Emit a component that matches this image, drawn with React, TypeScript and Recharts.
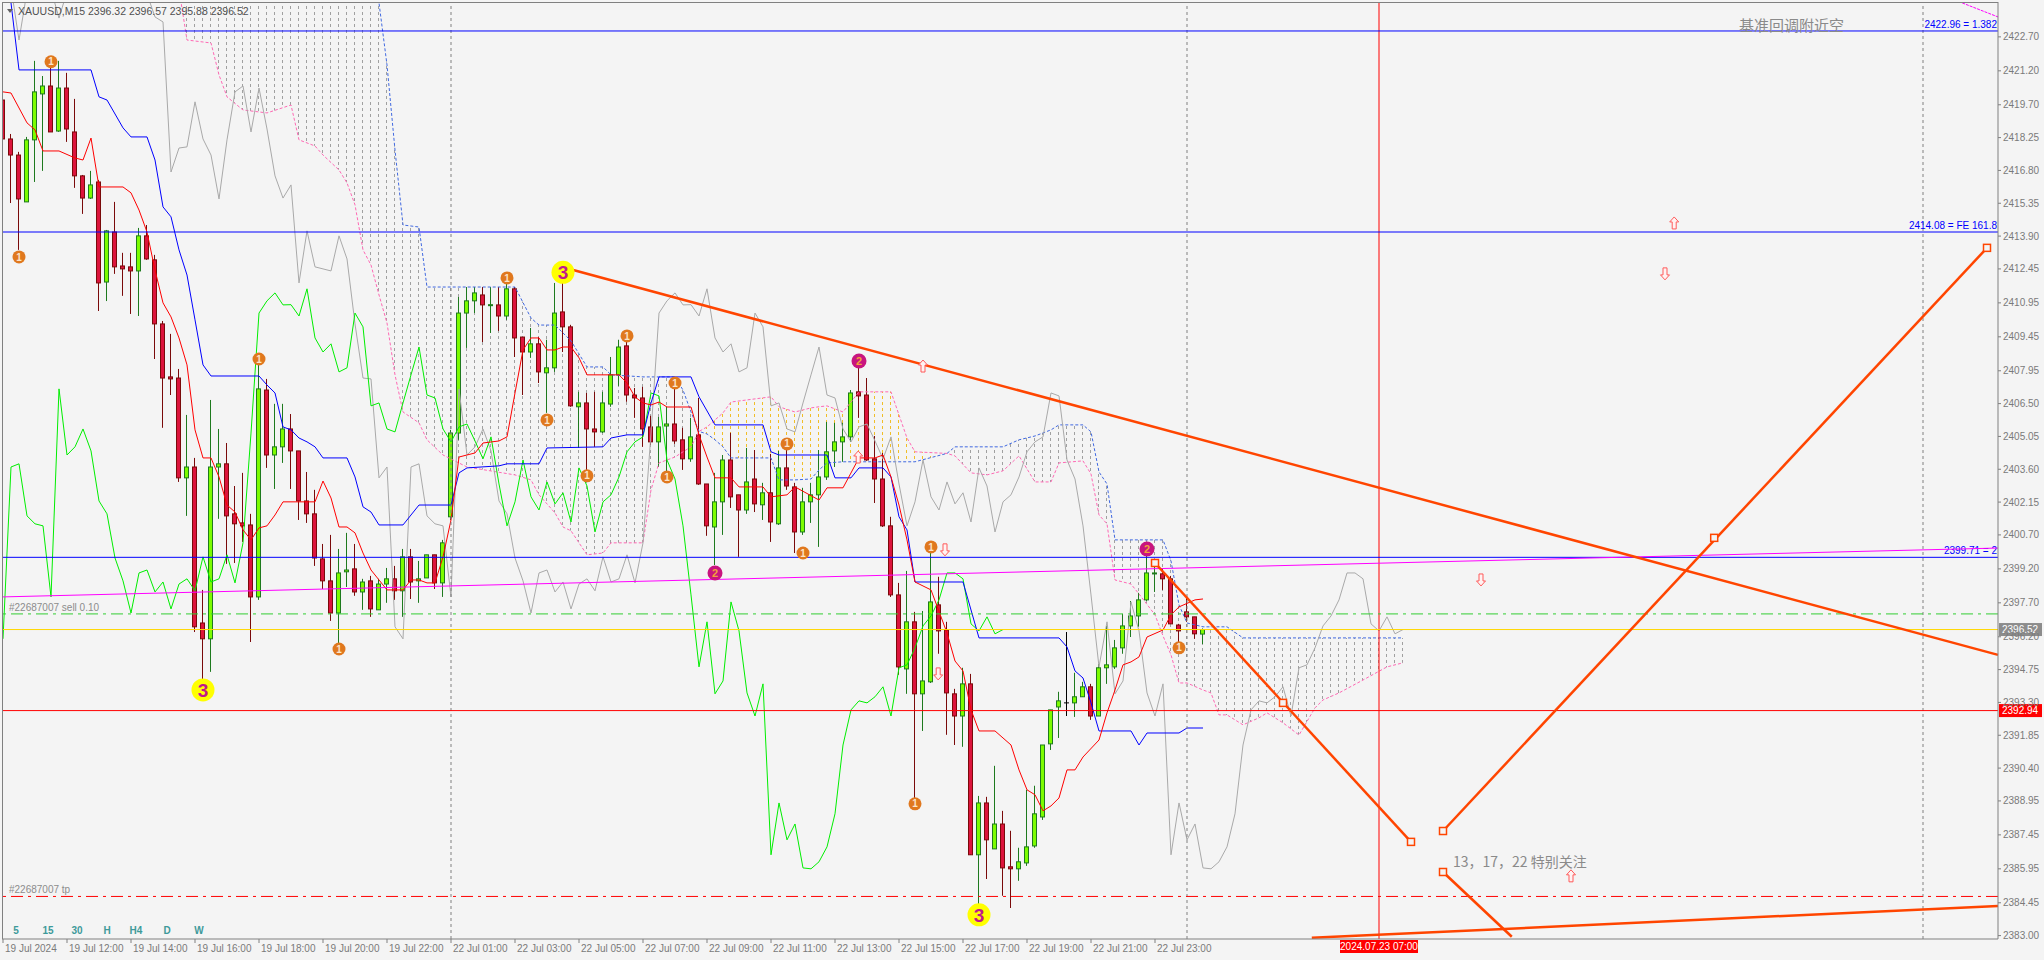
import React from "react";
import {
  Area,
  Bar,
  ComposedChart,
  Line,
  ReferenceDot,
  ReferenceLine,
  XAxis,
  YAxis,
} from "recharts";

const FONT = "'Liberation Sans', Arial, sans-serif";
const CJK = "'Noto Sans CJK SC', sans-serif";
const BG = "#F4F4F4";
const AXIS = "#7A7A7A";
const TREND = "#FF4500";

// XAUUSD M15 bars, index 0 = 19 Jul 10:00
const opens = [
  2419.91, 2418.19, 2417.48, 2415.41, 2418.15, 2420.18, 2420.53, 2418.54, 2420.44, 2418.5,
  2416.56, 2415.58, 2416.29, 2411.87, 2414.08, 2412.58, 2412.54, 2412.36, 2413.91, 2412.85,
  2410.02, 2407.68, 2407.63, 2403.22, 2403.7, 2396.81, 2396.11, 2403.7, 2403.84, 2401.63,
  2401.23, 2401.14, 2397.96, 2407.1, 2404.23, 2404.59, 2405.38, 2404.41, 2402.2, 2401.63,
  2399.64, 2398.67, 2397.25, 2399.07, 2399.2, 2398.18, 2398.67, 2397.39, 2398.53, 2398.76,
  2398.23, 2399.73, 2398.67, 2398.8, 2399.82, 2398.58, 2401.5, 2405.2, 2410.5, 2411.04,
  2411.3, 2410.86, 2410.86, 2410.37, 2411.57, 2409.44, 2408.78, 2409.14, 2407.86, 2408.08,
  2410.55, 2409.89, 2406.36, 2406.53, 2405.38, 2405.25, 2406.48, 2407.77, 2409.05, 2406.88,
  2406.75, 2405.47, 2404.81, 2405.51, 2405.6, 2404.9, 2404.06, 2405.12, 2402.95, 2401.05,
  2402.16, 2404.01, 2402.47, 2401.8, 2403.17, 2402.03, 2402.56, 2401.19, 2403.66, 2402.82,
  2400.83, 2402.16, 2402.47, 2403.26, 2404.41, 2404.81, 2405.03, 2407.02, 2406.88, 2404.06,
  2403.17, 2401.1, 2398.05, 2394.78, 2396.86, 2393.68, 2394.21, 2397.61, 2396.5, 2393.68,
  2392.7, 2394.12, 2386.57, 2388.86, 2386.83, 2387.93, 2386.04, 2385.95, 2386.21, 2386.96,
  2388.24, 2391.47, 2393.1, 2393.28, 2393.28, 2393.55, 2393.99, 2392.7, 2394.83, 2394.87,
  2395.71, 2396.68, 2397.12, 2397.83, 2398.98, 2398.98, 2398.76, 2396.72, 2397.3, 2397.08,
  2396.32,
];
const highs = [
  2422.17, 2418.41, 2417.62, 2418.28, 2421.64, 2420.97, 2421.55, 2421.64, 2421.11, 2419.96,
  2416.6, 2416.78, 2416.38, 2414.17, 2415.41, 2413.16, 2413.16, 2414.26, 2414.39, 2413.07,
  2410.15, 2409.58, 2408.03, 2406.0, 2404.1, 2398.27, 2406.66, 2405.38, 2404.76, 2402.86,
  2403.44, 2401.63, 2408.56, 2407.59, 2406.49, 2406.49, 2406.04, 2404.41, 2403.48, 2402.69,
  2400.3, 2400.7, 2400.08, 2400.79, 2400.3, 2398.76, 2398.89, 2398.76, 2399.24, 2399.33,
  2400.08, 2400.08, 2399.55, 2399.82, 2399.82, 2400.48, 2405.34, 2411.21, 2411.65, 2411.65,
  2411.65, 2411.65, 2411.65, 2411.92, 2411.65, 2409.44, 2409.84, 2409.44, 2409.32, 2411.83,
  2412.32, 2409.98, 2407.02, 2406.97, 2407.02, 2407.02, 2408.56, 2409.32, 2409.44, 2407.19,
  2407.24, 2405.96, 2405.91, 2406.36, 2407.41, 2405.43, 2405.87, 2406.75, 2402.95, 2403.44,
  2404.23, 2405.21, 2402.47, 2404.54, 2404.45, 2403.0, 2404.28, 2404.41, 2404.76, 2403.0,
  2402.78, 2403.0, 2404.45, 2405.69, 2405.65, 2405.65, 2407.1, 2408.34, 2407.63, 2405.07,
  2404.32, 2401.5, 2398.58, 2399.11, 2397.3, 2397.34, 2399.95, 2398.85, 2396.86, 2393.9,
  2394.83, 2394.56, 2389.17, 2389.13, 2390.5, 2388.51, 2387.63, 2386.88, 2389.44, 2389.62,
  2391.42, 2392.97, 2393.77, 2396.41, 2394.61, 2394.21, 2394.12, 2395.0, 2396.68, 2396.06,
  2397.21, 2397.78, 2398.14, 2400.08, 2399.42, 2399.2, 2398.89, 2396.77, 2397.96, 2397.08,
  2396.57,
];
const lows = [
  2417.84, 2415.36, 2413.29, 2415.41, 2416.29, 2416.78, 2418.5, 2418.5, 2418.06, 2416.03,
  2414.88, 2415.54, 2410.59, 2411.03, 2412.23, 2411.26, 2410.46, 2410.37, 2412.85, 2408.47,
  2405.43, 2406.88, 2403.04, 2401.54, 2396.41, 2394.29, 2394.65, 2401.41, 2399.42, 2399.46,
  2400.39, 2395.97, 2397.83, 2403.66, 2402.73, 2403.88, 2402.73, 2401.36, 2401.23, 2399.33,
  2398.31, 2396.9, 2395.84, 2398.4, 2398.01, 2397.39, 2397.08, 2397.39, 2397.7, 2397.83,
  2397.08, 2397.87, 2397.7, 2398.8, 2398.31, 2397.96, 2401.36, 2404.9, 2408.96, 2410.5,
  2409.22, 2409.62, 2409.71, 2410.2, 2408.56, 2406.88, 2408.52, 2407.41, 2406.09, 2407.9,
  2408.78, 2406.36, 2404.54, 2403.57, 2404.59, 2405.2, 2406.36, 2407.28, 2406.58, 2405.87,
  2404.59, 2404.67, 2403.7, 2403.44, 2404.72, 2403.57, 2403.93, 2402.91, 2400.66, 2399.37,
  2400.7, 2401.89, 2399.73, 2401.63, 2401.71, 2401.36, 2400.39, 2401.14, 2402.69, 2399.9,
  2400.7, 2401.23, 2400.17, 2403.13, 2403.7, 2403.93, 2404.81, 2405.87, 2403.97, 2402.11,
  2401.05, 2397.96, 2394.52, 2393.68, 2389.0, 2392.04, 2394.16, 2395.45, 2391.87, 2391.42,
  2391.34, 2386.57, 2384.05, 2385.5, 2386.83, 2384.76, 2384.22, 2385.42, 2386.08, 2386.88,
  2388.11, 2391.2, 2391.73, 2392.7, 2392.66, 2393.55, 2392.53, 2392.7, 2394.12, 2394.78,
  2395.45, 2396.19, 2396.64, 2397.78, 2398.18, 2398.27, 2396.77, 2395.71, 2396.86, 2396.11,
  2395.88,
];
const closes = [
  2418.19, 2417.48, 2415.54, 2418.15, 2420.27, 2420.53, 2418.5, 2420.44, 2418.63, 2416.56,
  2415.58, 2416.16, 2411.83, 2414.13, 2412.54, 2412.45, 2412.36, 2413.91, 2412.89, 2410.02,
  2407.63, 2407.59, 2403.22, 2403.7, 2396.64, 2396.11, 2403.7, 2403.84, 2401.54, 2401.19,
  2401.1, 2397.96, 2407.15, 2404.23, 2404.59, 2405.38, 2404.41, 2402.2, 2401.63, 2399.68,
  2398.67, 2397.25, 2399.02, 2399.15, 2398.18, 2398.62, 2397.43, 2398.53, 2398.76, 2398.23,
  2399.73, 2398.62, 2398.76, 2399.82, 2398.58, 2400.35, 2405.2, 2410.5, 2411.04, 2411.39,
  2410.86, 2410.87, 2410.37, 2411.57, 2409.4, 2408.78, 2409.14, 2407.9, 2408.08, 2410.5,
  2409.89, 2406.4, 2406.53, 2405.38, 2405.25, 2406.53, 2407.77, 2409.0, 2406.88, 2406.75,
  2405.38, 2404.81, 2405.47, 2405.6, 2404.85, 2404.06, 2405.03, 2402.95, 2401.1, 2402.16,
  2404.01, 2402.38, 2401.8, 2403.04, 2402.07, 2402.56, 2401.27, 2403.66, 2402.86, 2400.83,
  2402.16, 2402.47, 2403.26, 2404.37, 2404.81, 2405.03, 2406.97, 2406.84, 2404.01, 2403.17,
  2401.1, 2398.05, 2394.87, 2396.86, 2393.68, 2394.25, 2397.74, 2396.46, 2393.72, 2392.7,
  2394.12, 2386.57, 2388.86, 2387.23, 2387.93, 2385.99, 2385.95, 2386.26, 2386.92, 2388.38,
  2391.42, 2392.97, 2393.37, 2393.28, 2393.55, 2393.99, 2392.7, 2394.83, 2394.96, 2395.71,
  2396.68, 2397.12, 2397.83, 2399.02, 2399.02, 2398.76, 2396.77, 2396.46, 2397.08, 2396.33,
  2396.52,
];
// closes of the bars before the window (only seen through the forward-shifted grey line)
const priorCloses = [
  2425.3, 2424.9, 2422.56, 2424.7, 2425.1, 2425.4, 2424.8, 2423.53, 2424.7, 2425.0,
  2425.4, 2425.6, 2425.5, 2425.2, 2425.6, 2425.9, 2425.4, 2425.0, 2424.6, 2423.58,
  2423.36, 2416.73, 2417.79, 2417.84, 2419.83,
];

const timeTicks = [0, 8, 16, 24, 32, 40, 48, 56, 64, 72, 80, 88, 96, 104, 112, 120, 128, 136, 144];
const timeLabels = [
  "19 Jul 2024", "19 Jul 12:00", "19 Jul 14:00", "19 Jul 16:00", "19 Jul 18:00",
  "19 Jul 20:00", "19 Jul 22:00", "22 Jul 01:00", "22 Jul 03:00", "22 Jul 05:00",
  "22 Jul 07:00", "22 Jul 09:00", "22 Jul 11:00", "22 Jul 13:00", "22 Jul 15:00",
  "22 Jul 17:00", "22 Jul 19:00", "22 Jul 21:00", "22 Jul 23:00",
];
const priceTicks = [
  2422.7, 2421.2, 2419.7, 2418.25, 2416.8, 2415.35, 2413.9, 2412.45, 2410.95, 2409.45,
  2407.95, 2406.5, 2405.05, 2403.6, 2402.15, 2400.7, 2399.2, 2397.7, 2396.2, 2394.75,
  2393.3, 2391.85, 2390.4, 2388.95, 2387.45, 2385.95, 2384.45, 2383.0,
];

// ichimoku lines, [bar, price] at the corners of each line
const tenkan: [number, number][] = [
  [0, 2420.27], [1, 2420.22], [3, 2418.9], [4, 2418.59], [5, 2417.66], [7, 2417.66], [9, 2417.35],
  [10, 2417.26], [11, 2418.23], [12, 2416.07], [15, 2416.07], [16, 2415.81], [17, 2415.05],
  [18, 2414.08], [19, 2412.4], [20, 2410.95], [21, 2410.33], [22, 2409.4], [23, 2408.21],
  [24, 2405.34], [25, 2404.1], [26, 2404.1], [27, 2403.26], [28, 2402.02], [29, 2401.71],
  [30, 2400.92], [31, 2400.48], [32, 2401.01], [33, 2401.1], [34, 2401.58], [35, 2402.16],
  [39, 2402.16], [40, 2403.08], [41, 2402.33], [42, 2401.05], [43, 2401.05], [44, 2400.79],
  [45, 2399.9], [46, 2399.15], [47, 2398.71], [48, 2398.27], [50, 2398.27], [51, 2398.71],
  [52, 2398.71], [53, 2398.58], [54, 2398.58], [55, 2399.73], [56, 2401.36], [57, 2404.14],
  [59, 2404.32], [60, 2404.76], [62, 2404.85], [63, 2405.03], [64, 2406.97], [65, 2408.87],
  [66, 2409.4], [67, 2409.4], [68, 2408.87], [69, 2408.87], [70, 2409.0], [71, 2409.0],
  [72, 2408.52], [73, 2407.77], [77, 2407.77], [78, 2407.41], [79, 2406.79], [80, 2406.53],
  [81, 2406.44], [82, 2406.57], [83, 2406.35], [86, 2406.35], [87, 2405.12], [88, 2404.14],
  [89, 2403.22], [91, 2403.22], [92, 2402.82], [95, 2402.82], [96, 2402.38], [98, 2402.47],
  [99, 2402.82], [102, 2402.24], [103, 2402.78], [105, 2402.78], [107, 2404.1], [109, 2404.1],
  [110, 2404.23], [111, 2403.26], [112, 2402.02], [113, 2400.48], [114, 2398.62], [116, 2398.27],
  [118, 2396.37], [119, 2395.13], [120, 2394.69], [121, 2392.97], [122, 2392.04], [124, 2392.04],
  [126, 2391.42], [127, 2390.32], [128, 2389.44], [129, 2389.22], [130, 2388.51], [131, 2388.73],
  [132, 2389.08], [133, 2390.32], [134, 2390.32], [135, 2390.89], [137, 2391.64], [138, 2392.84],
  [139, 2393.85], [140, 2394.96], [141, 2395.09], [142, 2395.31], [143, 2396.19], [145, 2396.5],
  [146, 2397.17], [147, 2397.52], [149, 2397.83], [150, 2397.87],
];
const kijun: [number, number][] = [
  [0, 2425.5], [1, 2424.2], [2, 2421.24], [11, 2421.24], [12, 2420.05], [13, 2419.91],
  [15, 2418.68], [16, 2418.28], [18, 2418.28], [19, 2417.26], [20, 2415.19], [21, 2414.75],
  [22, 2413.29], [23, 2412.18], [24, 2410.2], [25, 2408.21], [26, 2407.72], [32, 2407.72],
  [33, 2407.32], [34, 2406.97], [35, 2405.47], [36, 2405.34], [37, 2404.98], [38, 2404.81],
  [39, 2404.59], [40, 2404.1], [43, 2404.1], [44, 2403.26], [45, 2401.94], [46, 2401.71],
  [47, 2401.14], [50, 2401.14], [52, 2402.02], [56, 2402.02], [57, 2403.44], [58, 2403.66],
  [62, 2403.75], [63, 2403.84], [67, 2403.84], [68, 2404.54], [75, 2404.59], [76, 2404.98],
  [78, 2405.12], [80, 2405.12], [81, 2406.53], [82, 2407.68], [86, 2407.68], [87, 2406.8],
  [89, 2405.56], [95, 2405.56], [96, 2404.37], [97, 2404.23], [103, 2404.23], [104, 2403.22],
  [106, 2403.22], [107, 2403.66], [110, 2403.66], [111, 2403.26], [112, 2401.5], [113, 2400.92],
  [114, 2398.62], [120, 2398.62], [122, 2396.15], [132, 2396.15], [133, 2395.75], [134, 2394.69],
  [135, 2394.38], [136, 2393.28], [137, 2392.04], [141, 2392.04], [142, 2391.42], [143, 2391.95],
  [147, 2391.95], [148, 2392.17], [150, 2392.17],
];
// [bar, senkou A, senkou B]
const cloud: [number, number, number][] = [
  [22, 2424.8, 2426.5], [23, 2422.56, 2426.5], [26, 2422.43, 2426.5], [27, 2421.02, 2426.5],
  [28, 2420.05, 2426.5], [30, 2419.47, 2426.5], [33, 2419.34, 2426.5], [36, 2419.69, 2426.5],
  [37, 2418.15, 2426.5], [39, 2417.88, 2426.5], [40, 2417.48, 2426.5], [42, 2416.82, 2426.5],
  [43, 2416.25, 2426.5], [44, 2415.28, 2426.0], [45, 2413.29, 2425.5], [46, 2412.62, 2424.9],
  [47, 2411.3, 2424.2], [48, 2410.06, 2421.46], [49, 2407.77, 2417.7], [50, 2406.13, 2414.39],
  [52, 2405.65, 2414.3], [53, 2404.9, 2411.65], [55, 2404.23, 2411.65], [58, 2403.7, 2411.65],
  [64, 2403.35, 2411.65], [66, 2403.13, 2410.28], [67, 2402.47, 2409.97], [69, 2401.67, 2409.97],
  [70, 2401.05, 2409.62], [71, 2400.88, 2409.27], [73, 2399.82, 2408.12], [75, 2399.9, 2408.12],
  [76, 2400.35, 2407.77], [80, 2400.35, 2407.68], [81, 2402.69, 2407.68], [82, 2403.88, 2407.68],
  [84, 2404.14, 2407.68], [85, 2404.37, 2407.1], [86, 2404.59, 2406.13], [87, 2405.27, 2405.27],
  [88, 2405.47, 2405.16], [89, 2405.78, 2404.9], [90, 2406.09, 2404.59], [91, 2406.57, 2404.1],
  [96, 2406.8, 2404.1], [97, 2406.36, 2403.13], [99, 2406.13, 2403.13], [101, 2406.31, 2403.17],
  [102, 2406.36, 2403.57], [103, 2406.4, 2403.88], [105, 2406.13, 2403.93], [107, 2407.02, 2403.93],
  [111, 2407.02, 2403.93], [112, 2406.0, 2403.93], [113, 2404.98, 2403.93], [114, 2404.37, 2403.93],
  [118, 2404.3, 2404.3], [119, 2404.19, 2404.59], [121, 2403.44, 2404.59], [123, 2403.35, 2404.59],
  [125, 2403.53, 2404.59], [127, 2404.19, 2404.9], [129, 2403.04, 2405.07], [131, 2403.04, 2405.34],
  [132, 2403.88, 2405.56], [135, 2403.97, 2405.56], [136, 2403.39, 2405.25], [137, 2401.58, 2403.48],
  [138, 2401.19, 2402.95], [139, 2398.71, 2400.48], [141, 2398.53, 2400.48], [142, 2398.09, 2400.48],
  [144, 2397.17, 2400.48], [145, 2396.24, 2400.48], [146, 2395.4, 2399.55], [147, 2394.16, 2397.61],
  [148, 2394.16, 2396.81], [150, 2393.85, 2396.64], [151, 2393.72, 2396.64], [152, 2392.75, 2396.64],
  [153, 2392.75, 2396.64], [155, 2392.31, 2396.15], [157, 2392.62, 2396.15], [158, 2392.84, 2396.15],
  [160, 2392.4, 2396.15], [162, 2391.86, 2396.15], [164, 2393.06, 2396.15], [165, 2393.41, 2396.15],
  [167, 2393.72, 2396.15], [170, 2394.29, 2396.15], [173, 2394.87, 2396.15], [175, 2395.05, 2396.15],
];

// wave count markers [bar, price]
const wave1: [number, number][] = [
  [6, 2421.6], [2, 2412.98], [32, 2408.47], [42, 2395.66], [63, 2412.05], [68, 2405.78],
  [73, 2403.31], [78, 2409.49], [84, 2407.41], [83, 2403.26], [98, 2404.72], [100, 2399.9],
  [116, 2400.17], [114, 2388.82], [147, 2395.71],
];
const wave2: [number, number][] = [[89, 2399.02], [107, 2408.38], [143, 2400.08]];
const wave3: [number, number][] = [[70, 2412.3], [25, 2393.85], [122, 2383.92]];
const arrowsUp: [number, number][] = [[115, 2408.16], [106.9, 2404.14], [208.9, 2414.48], [196, 2385.64]];
const arrowsDown: [number, number][] = [[117.75, 2400.04], [116.9, 2394.56], [184.75, 2398.71], [207.75, 2412.23]];

// hand-drawn trend lines and their anchor squares
const trendLines: [number, number, number, number][] = [
  [70, 2412.52, 249.375, 2395.4],
  [144, 2399.46, 176, 2387.14],
  [180, 2387.62, 248, 2413.38],
  [180, 2385.81, 188.6, 2382.95],
  [163.6, 2382.9, 249.375, 2384.31],
];
const anchors: [number, number][] = [
  [144, 2399.46], [160, 2393.28], [176, 2387.14], [180, 2387.62], [213.9, 2400.57], [248, 2413.38], [180, 2385.81],
];

type Row = {
  i: number;
  o?: number; h?: number; l?: number; c?: number;
  tenkan?: number; kijun?: number; chikou?: number; lag?: number;
  senA?: number; senB?: number;
  gray1?: [number, number]; gray2?: [number, number]; yel?: [number, number];
};

const rows: Row[] = [];
for (let i = 0; i <= 176; i++) rows.push({ i });
opens.forEach((o, k) => Object.assign(rows[k], { o, h: highs[k], l: lows[k], c: closes[k] }));
tenkan.forEach(([i, v]) => (rows[i].tenkan = v));
kijun.forEach(([i, v]) => (rows[i].kijun = v));
closes.forEach((v, k) => {
  if (k >= 25) rows[k - 25].chikou = v;
  rows[k + 25].lag = v;
});
priorCloses.forEach((v, k) => (rows[k].lag = v));
cloud.forEach(([i, a, b]) => {
  const r = rows[i];
  r.senA = a;
  r.senB = b;
  const band: [number, number] = [Math.min(a, b), Math.max(a, b)];
  if (i <= 87) r.gray1 = band;
  if (i >= 87 && i <= 118) r.yel = band;
  if (i >= 118) r.gray2 = band;
});

function Candle(props: any) {
  const { x, y, width, height, payload } = props;
  if (!payload || payload.h == null || !(height > 0)) return null;
  const { o, h, l, c } = payload;
  const k = height / (h - l);
  const cx = Math.round(x + width / 2) - 0.5;
  const py = (v: number) => y + (h - v) * k;
  const flat = o === c;
  const bull = c > o;
  const edge = flat ? "#000000" : bull ? "#1E7A1E" : "#7A0A0A";
  const top = py(Math.max(o, c));
  const bot = py(Math.min(o, c));
  return (
    <g>
      <line x1={cx} x2={cx} y1={y} y2={y + height} stroke={edge} strokeWidth={1} />
      {flat ? (
        <line x1={cx - 2.5} x2={cx + 2.5} y1={top} y2={top} stroke={edge} strokeWidth={1} />
      ) : (
        <rect
          x={cx - 2}
          y={top}
          width={4}
          height={Math.max(bot - top, 1)}
          fill={bull ? "#7CFC00" : "#DC143C"}
          stroke={edge}
          strokeWidth={1}
        />
      )}
    </g>
  );
}

function TimeTick({ x, y, payload }: any) {
  const idx = timeTicks.indexOf(payload.value);
  return (
    <text x={x + 2} y={y} dy="0.71em" fontSize={10} fill={AXIS} fontFamily={FONT}>
      {timeLabels[idx]}
    </text>
  );
}

const priceTag = (text: string, bg: string) => (p: any) => {
  const vb = p.viewBox;
  const x = vb.x + vb.width + 1;
  return (
    <g>
      <rect x={x} y={vb.y - 6.5} width={43} height={13} fill={bg} />
      <text x={x + 3} y={vb.y} dy="0.35em" fontSize={10} fill="#FFFFFF" fontFamily={FONT}>
        {text}
      </text>
    </g>
  );
};

const fibLabel = (text: string) => (p: any) => (
  <text
    x={p.viewBox.x + p.viewBox.width - 1}
    y={p.viewBox.y - 3}
    textAnchor="end"
    fontSize={10}
    fill="#0000FF"
    fontFamily={FONT}
  >
    {text}
  </text>
);

const orderLabel = (text: string) => (p: any) => (
  <text x={p.viewBox.x + 7} y={p.viewBox.y - 3} fontSize={10} fill="#8C8C8C" fontFamily={FONT}>
    {text}
  </text>
);

const timeTag = (p: any) => {
  const x = p.viewBox.x;
  const yb = p.viewBox.y + p.viewBox.height;
  return (
    <g>
      <rect x={x - 39} y={yb + 1} width={78} height={13} fill="#FF0000" />
      <text x={x} y={yb + 7.5} dy="0.35em" textAnchor="middle" fontSize={10} fill="#FFFFFF" fontFamily={FONT}>
        2024.07.23 07:00
      </text>
    </g>
  );
};

function WaveMark({ cx, cy, n }: any) {
  if (n === "3") {
    return (
      <g>
        <circle cx={cx} cy={cy} r={11.5} fill="#FFFF00" />
        <text x={cx} y={cy} dy="0.36em" textAnchor="middle" fontSize={19} fontWeight="bold" fill="#C0188C" fontFamily={FONT}>
          3
        </text>
      </g>
    );
  }
  const one = n === "1";
  return (
    <g>
      <circle cx={cx} cy={cy} r={one ? 6.5 : 7.5} fill={one ? "#E0781E" : "#C8157F"} />
      <text
        x={cx}
        y={cy}
        dy="0.36em"
        textAnchor="middle"
        fontSize={one ? 10 : 11}
        fontWeight="bold"
        fill={one ? "#FBE3C8" : "#F2A23A"}
        fontFamily={FONT}
      >
        {n}
      </text>
    </g>
  );
}

function HollowArrow({ cx, cy, up }: any) {
  const s = up ? 1 : -1;
  const pts = [
    [0, -6], [4.5, -1], [2, -1], [2, 6], [-2, 6], [-2, -1], [-4.5, -1],
  ]
    .map(([px, py]) => `${cx + px},${cy + s * py}`)
    .join(" ");
  return <polygon points={pts} fill="#FFF2F2" stroke="#FF5A5A" strokeWidth={1} />;
}

function Anchor({ cx, cy }: any) {
  return <rect x={cx - 3.5} y={cy - 3.5} width={7} height={7} fill={BG} stroke={TREND} strokeWidth={1.5} />;
}

const note = (text: string, size: number) => (p: any) => (
  <text x={p.cx} y={p.cy} dy="0.35em" fontSize={size} fill="#8A8A8A" fontFamily={CJK}>
    {text}
  </text>
);

const tfButtons: [string, number][] = [["5", 16], ["15", 48], ["30", 77], ["H", 107], ["H4", 136], ["D", 167], ["W", 199]];

export default function App() {
  return (
    <div style={{ position: "absolute", left: 0, top: 0, width: 2044, height: 960, background: BG, overflow: "hidden" }}>
      <ComposedChart width={2044} height={960} data={rows} margin={{ top: 2, right: 0, bottom: 0, left: 2 }}>
        <defs>
          <pattern id="hatchGray" patternUnits="userSpaceOnUse" x={2} y={0} width={8} height={6}>
            <line x1={0.5} x2={0.5} y1={0} y2={3} stroke="#A0A0A0" strokeWidth={1} />
          </pattern>
          <pattern id="hatchYellow" patternUnits="userSpaceOnUse" x={2} y={0} width={8} height={6}>
            <line x1={0.5} x2={0.5} y1={0} y2={3} stroke="#F0BE28" strokeWidth={1} />
          </pattern>
        </defs>
        <XAxis
          dataKey="i"
          type="number"
          domain={[-0.125, 249.375]}
          allowDataOverflow
          ticks={timeTicks}
          interval={0}
          height={21}
          tickSize={4}
          tick={<TimeTick />}
          axisLine={{ stroke: "#808080" }}
          tickLine={{ stroke: "#808080" }}
        />
        <YAxis
          orientation="right"
          type="number"
          domain={[2382.85, 2424.24]}
          allowDataOverflow
          ticks={priceTicks}
          interval={0}
          width={46}
          tickSize={3}
          tickFormatter={(v: number) => v.toFixed(2)}
          tick={{ fontSize: 10, fill: AXIS, fontFamily: FONT }}
          axisLine={{ stroke: "#808080" }}
          tickLine={{ stroke: "#808080" }}
        />

        <Area dataKey="gray1" connectNulls stroke="none" fill="url(#hatchGray)" fillOpacity={1} isAnimationActive={false} />
        <Area dataKey="gray2" connectNulls stroke="none" fill="url(#hatchGray)" fillOpacity={1} isAnimationActive={false} />
        <Area dataKey="yel" connectNulls stroke="none" fill="url(#hatchYellow)" fillOpacity={1} isAnimationActive={false} />

        <Bar
          dataKey={(r: Row) => (r.h == null ? null : [r.l, r.h])}
          shape={<Candle />}
          barSize={6}
          isAnimationActive={false}
        />

        <Line dataKey="senA" connectNulls dot={false} activeDot={false} stroke="#FF69B4" strokeDasharray="3 2" strokeWidth={1} isAnimationActive={false} />
        <Line dataKey="senB" connectNulls dot={false} activeDot={false} stroke="#4169E1" strokeDasharray="3 2" strokeWidth={1} isAnimationActive={false} />
        <Line dataKey="lag" connectNulls dot={false} activeDot={false} stroke="#A9A9A9" strokeWidth={1} isAnimationActive={false} />
        <Line dataKey="chikou" connectNulls dot={false} activeDot={false} stroke="#00EE00" strokeWidth={1} isAnimationActive={false} />
        <Line dataKey="kijun" connectNulls dot={false} activeDot={false} stroke="#0000FF" strokeWidth={1} isAnimationActive={false} />
        <Line dataKey="tenkan" connectNulls dot={false} activeDot={false} stroke="#FF0000" strokeWidth={1} isAnimationActive={false} />

        <ReferenceLine x={56} stroke="#808080" strokeDasharray="3 3" />
        <ReferenceLine x={148} stroke="#808080" strokeDasharray="3 3" />
        <ReferenceLine x={240} stroke="#808080" strokeDasharray="3 3" />
        <ReferenceLine x={172} stroke="#FF0000" label={timeTag} />

        <ReferenceLine y={2422.96} stroke="#0000FF" label={fibLabel("2422.96 = 1.382")} />
        <ReferenceLine y={2414.08} stroke="#0000FF" label={fibLabel("2414.08 = FE 161.8")} />
        <ReferenceLine y={2399.71} stroke="#0000FF" label={fibLabel("2399.71 = 2")} />
        <ReferenceLine
          segment={[{ x: -0.125, y: 2397.96 }, { x: 249.375, y: 2400.12 }]}
          stroke="#FF00FF"
        />
        <ReferenceLine
          segment={[{ x: 244.9, y: 2424.2 }, { x: 249.375, y: 2423.58 }]}
          stroke="#FF00FF"
          strokeDasharray="3 1"
        />
        <ReferenceLine y={2397.21} stroke="#32CD32" strokeDasharray="12 5 3 5" label={orderLabel("#22687007 sell 0.10")} />
        <ReferenceLine y={2396.52} stroke="#FFD700" label={priceTag("2396.52", "#8C8C8C")} />
        <ReferenceLine y={2392.94} stroke="#FF0000" label={priceTag("2392.94", "#FF0000")} />
        <ReferenceLine y={2384.73} stroke="#FF0000" strokeDasharray="12 5 3 5" label={orderLabel("#22687007 tp")} />

        {trendLines.map(([x1, y1, x2, y2], k) => (
          <ReferenceLine
            key={`t${k}`}
            segment={[{ x: x1, y: y1 }, { x: x2, y: y2 }]}
            stroke={TREND}
            strokeWidth={2.5}
          />
        ))}
        {anchors.map(([x, y], k) => (
          <ReferenceDot key={`a${k}`} x={x} y={y} r={4} shape={(p: any) => <Anchor cx={p.cx} cy={p.cy} />} />
        ))}
        {arrowsUp.map(([x, y], k) => (
          <ReferenceDot key={`u${k}`} x={x} y={y} r={5} shape={(p: any) => <HollowArrow cx={p.cx} cy={p.cy} up />} />
        ))}
        {arrowsDown.map(([x, y], k) => (
          <ReferenceDot key={`d${k}`} x={x} y={y} r={5} shape={(p: any) => <HollowArrow cx={p.cx} cy={p.cy} />} />
        ))}
        {wave1.map(([x, y], k) => (
          <ReferenceDot key={`w1${k}`} x={x} y={y} r={6} shape={(p: any) => <WaveMark cx={p.cx} cy={p.cy} n="1" />} />
        ))}
        {wave2.map(([x, y], k) => (
          <ReferenceDot key={`w2${k}`} x={x} y={y} r={7} shape={(p: any) => <WaveMark cx={p.cx} cy={p.cy} n="2" />} />
        ))}
        {wave3.map(([x, y], k) => (
          <ReferenceDot key={`w3${k}`} x={x} y={y} r={11} shape={(p: any) => <WaveMark cx={p.cx} cy={p.cy} n="3" />} />
        ))}
        <ReferenceDot x={217} y={2423.18} r={1} shape={note("基准回调附近空", 15)} />
        <ReferenceDot x={181.25} y={2386.26} r={1} shape={note("13，17，22 特别关注", 14)} />
      </ComposedChart>

      <svg
        width={2044}
        height={960}
        style={{ position: "absolute", left: 0, top: 0, pointerEvents: "none" }}
      >
        <line x1={2} x2={1998} y1={2.5} y2={2.5} stroke="#808080" />
        <line x1={2.5} x2={2.5} y1={2} y2={939} stroke="#808080" />
        <polygon points="7,9 13,9 10,13" fill="#606060" />
        <text x={18} y={15} fontSize={10.5} fill="#505050" fontFamily={FONT}>
          XAUUSD,M15  2396.32 2396.57 2395.88 2396.52
        </text>
        {tfButtons.map(([t, x]) => (
          <text key={t} x={x} y={934} textAnchor="middle" fontSize={10} fontWeight="bold" fill="#3E9A9A" fontFamily={FONT}>
            {t}
          </text>
        ))}
      </svg>
    </div>
  );
}
